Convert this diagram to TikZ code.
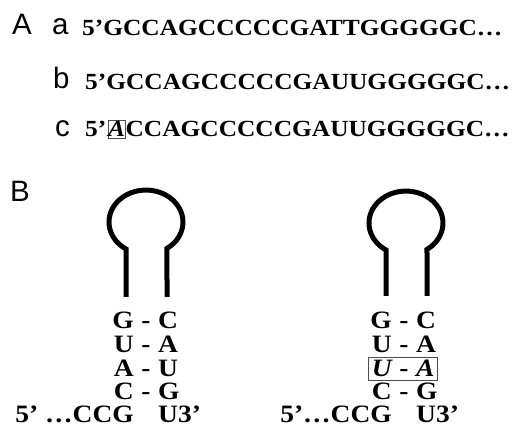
\documentclass[tikz,border=0pt]{standalone}
\usepackage{fontspec}
\usetikzlibrary{fit}
\newfontfamily\seqfont{Liberation Serif}[FakeStretch=1.1]
\newfontfamily\labfont{Liberation Sans}
\tikzset{
  lab/.style={inner sep=0pt, anchor=base west, font=\labfont\fontsize{29.5}{29.5}\selectfont},
  seqtxt/.style={inner sep=0pt, anchor=base west, font=\seqfont\bfseries\fontsize{23.1}{23.1}\selectfont},
  base/.style={inner sep=0pt, font=\seqfont\bfseries\fontsize{25}{25}\selectfont},
  lbase/.style={base, anchor=base east},
  rbase/.style={base, anchor=base west},
  hbase/.style={base, anchor=base},
  thinbox/.style={draw=black!70, line width=0.9pt},
  loopline/.style={line width=5pt, black}
}
\begin{document}
\begin{tikzpicture}[x=1pt,y=-1pt]
\useasboundingbox (0,0) rectangle (512,427);
% Panel A
\node[lab] (A) at (12,35) {A};
\node[lab] (la) at (52,35) {a};
\node[lab] (lb) at (53,89) {b};
\node[lab] (lc) at (55,137) {c};
\node[seqtxt] (sa) at (82,36) {5’GCCAGCCCCCGATTGGGGGC…};
\node[seqtxt] (sb) at (85,90) {5’GCCAGCCCCCGAUUGGGGGC…};
\node[seqtxt] (sc1) at (85,137) {5’};
\node[seqtxt, thinbox, inner xsep=0pt, inner ysep=1pt] (sc2) at ([xshift=1pt]sc1.base east) {\itshape A};
\node[seqtxt] (sc3) at ([xshift=0pt]sc2.base east) {CCAGCCCCCGAUUGGGGGC…};
% Panel B
\node[lab] (B) at (10,202) {B};
% left hairpin
\draw[loopline] (126,297) -- (126,249) arc[start angle=122.7, end angle=415.4, x radius=37, y radius=32] -- (167,297);
\foreach \i/\l/\r/\y in {1/G/C/329, 2/U/A/353, 3/A/U/377, 4/C/G/400}{
  \node[lbase] (L\i) at (134,\y) {\l};
  \node[hbase] (LH\i) at (146,\y) {-};
  \node[rbase] (R\i) at (158,\y) {\r};
}
\node[lbase] (L5) at (134,423) {5’ …CCG};
\node[rbase] (R5) at (158,423) {U3’};
% right hairpin
\draw[loopline] (386,296) -- (386,250) arc[start angle=122.7, end angle=415.4, x radius=37, y radius=32] -- (427,296);
\foreach \i/\l/\r/\y in {1/G/C/329, 2/U/A/353, 4/C/G/400}{
  \node[lbase] (M\i) at (392,\y) {\l};
  \node[hbase] (MH\i) at (404,\y) {-};
  \node[rbase] (N\i) at (416,\y) {\r};
}
\node[lbase] (M3) at (392,377) {\itshape U};
\node[hbase] (MH3) at (404,377) {-};
\node[rbase] (N3) at (416,377) {\itshape A};
\node[thinbox, inner xsep=3pt, inner ysep=3pt, fit=(M3)(N3)] (box3) {};
\node[lbase] (M5) at (392,423) {5’…CCG};
\node[rbase] (N5) at (416,423) {U3’};
\end{tikzpicture}
\end{document}
